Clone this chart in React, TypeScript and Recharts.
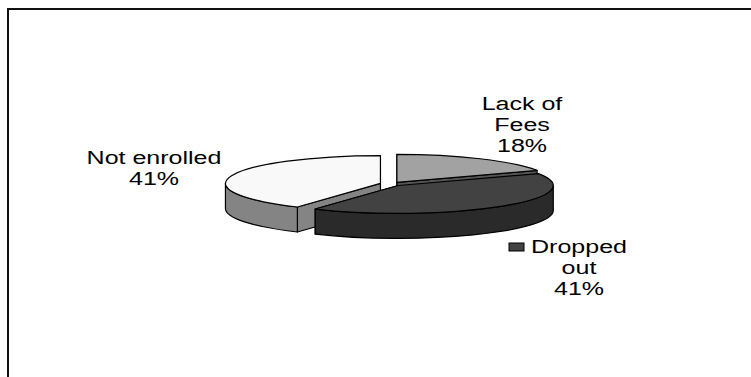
import { Pie, PieChart } from "recharts";

// Survey breakdown, listed counter-clockwise from 12 o'clock
const CATEGORIES = ["Not enrolled", "Dropped out", "Lack of Fees"];
const SHARES = [41, 41, 18];
const LABEL_LINES = [["Not enrolled"], ["Dropped", "out"], ["Lack of", "Fees"]];

const TOP_COLORS = ["#f9f9f9", "#424242", "#a2a2a2"];
const SIDE_COLORS = ["#848484", "#2a2a2a", "#555555"];

// label anchors relative to the pie centre: [dx, baseline dy]
const LABEL_OFFSETS = [
  [-237, -20],
  [188, 69],
  [131, -74],
];

const WIDTH = 742;
const HEIGHT = 367;
const CX = 377;
const CY = 169;
const RADIUS = 155;
const TILT = 0.18; // vertical squash of the disc
const DEPTH = 25; // thickness of the slab
const EXPLODE = 11;
const STRETCH = 1.39; // labels are drawn horizontally stretched
const LINE_H = 21;

const data = CATEGORIES.map((name, i) => ({ name, value: SHARES[i] }));

const rad = (d: number) => (d * Math.PI) / 180;

function pt(cx: number, cy: number, r: number, deg: number): [number, number] {
  return [cx + r * Math.cos(rad(deg)), cy - r * TILT * Math.sin(rad(deg))];
}

function shifted(props: any): [number, number] {
  const m = props.midAngle;
  return [
    props.cx + EXPLODE * Math.cos(rad(m)),
    props.cy - EXPLODE * TILT * Math.sin(rad(m)),
  ];
}

// walls: both radial cuts, then the front part of the rim
function SliceSide(props: any) {
  const { outerRadius: r, startAngle, endAngle, index } = props;
  const [x0, y0] = shifted(props);
  const ry = r * TILT;
  const a0 = Math.min(startAngle, endAngle);
  const a1 = Math.max(startAngle, endAngle);
  const fill = SIDE_COLORS[index];

  const faces = [a0, a1].map((a) => {
    const [px, py] = pt(x0, y0, r, a);
    return `M${x0},${y0} L${px},${py} L${px},${py + DEPTH} L${x0},${y0 + DEPTH} Z`;
  });

  const rims: string[] = [];
  for (const base of [-180, 180, 540]) {
    const lo = Math.max(a0, base);
    const hi = Math.min(a1, base + 180);
    if (hi <= lo) continue;
    const [lx, ly] = pt(x0, y0, r, lo);
    const [hx, hy] = pt(x0, y0, r, hi);
    rims.push(
      `M${lx},${ly} A${r},${ry} 0 0 0 ${hx},${hy} L${hx},${hy + DEPTH} ` +
        `A${r},${ry} 0 0 1 ${lx},${ly + DEPTH} Z`
    );
  }

  return (
    <g>
      {faces.map((d, i) => (
        <path key={`f${i}`} d={d} fill={fill} stroke="#000" strokeWidth={1.2} strokeLinejoin="round" />
      ))}
      {rims.map((d, i) => (
        <path key={`r${i}`} d={d} fill={fill} stroke="#000" strokeWidth={1.2} strokeLinejoin="round" />
      ))}
    </g>
  );
}

function SliceTop(props: any) {
  const { outerRadius: r, startAngle, endAngle, index } = props;
  const [x0, y0] = shifted(props);
  const a0 = Math.min(startAngle, endAngle);
  const a1 = Math.max(startAngle, endAngle);
  const [sx, sy] = pt(x0, y0, r, a0);
  const [ex, ey] = pt(x0, y0, r, a1);
  const large = a1 - a0 > 180 ? 1 : 0;
  const d = `M${x0},${y0} L${sx},${sy} A${r},${r * TILT} 0 ${large} 0 ${ex},${ey} Z`;
  return <path d={d} fill={TOP_COLORS[index]} stroke="#000" strokeWidth={1.2} strokeLinejoin="round" />;
}

function SliceLabel(props: any) {
  const { cx, cy, index, percent } = props;
  const [dx, dy] = LABEL_OFFSETS[index];
  const x = cx + dx;
  const y = cy + dy;
  const lines = [...LABEL_LINES[index], `${Math.round(percent * 100)}%`];
  return (
    <g>
      {index === 1 && (
        <rect x={x - 70} y={y - 10} width={15} height={8} fill={TOP_COLORS[1]} stroke="#000" strokeWidth={1} />
      )}
      <g transform={`translate(${x},${y}) scale(${STRETCH},1)`}>
        <text textAnchor="middle" fontFamily="'Liberation Sans', Arial, sans-serif" fontSize={18} fill="#000">
          {lines.map((l, i) => (
            <tspan key={i} x={0} dy={i === 0 ? 0 : LINE_H}>
              {l}
            </tspan>
          ))}
        </text>
      </g>
    </g>
  );
}

export default function App() {
  return (
    <div
      style={{
        position: "fixed",
        left: 7,
        top: 8,
        width: WIDTH,
        height: HEIGHT,
        borderTop: "2px solid #111",
        borderLeft: "2px solid #111",
        background: "#fff",
      }}
    >
      <PieChart width={WIDTH} height={HEIGHT}>
        <Pie
          data={data}
          dataKey="value"
          nameKey="name"
          cx={CX}
          cy={CY}
          outerRadius={RADIUS}
          startAngle={90}
          endAngle={450}
          stroke="none"
          shape={SliceSide}
          isAnimationActive={false}
        />
        <Pie
          data={data}
          dataKey="value"
          nameKey="name"
          cx={CX}
          cy={CY}
          outerRadius={RADIUS}
          startAngle={90}
          endAngle={450}
          stroke="none"
          shape={SliceTop}
          label={SliceLabel}
          labelLine={false}
          isAnimationActive={false}
        />
      </PieChart>
    </div>
  );
}
